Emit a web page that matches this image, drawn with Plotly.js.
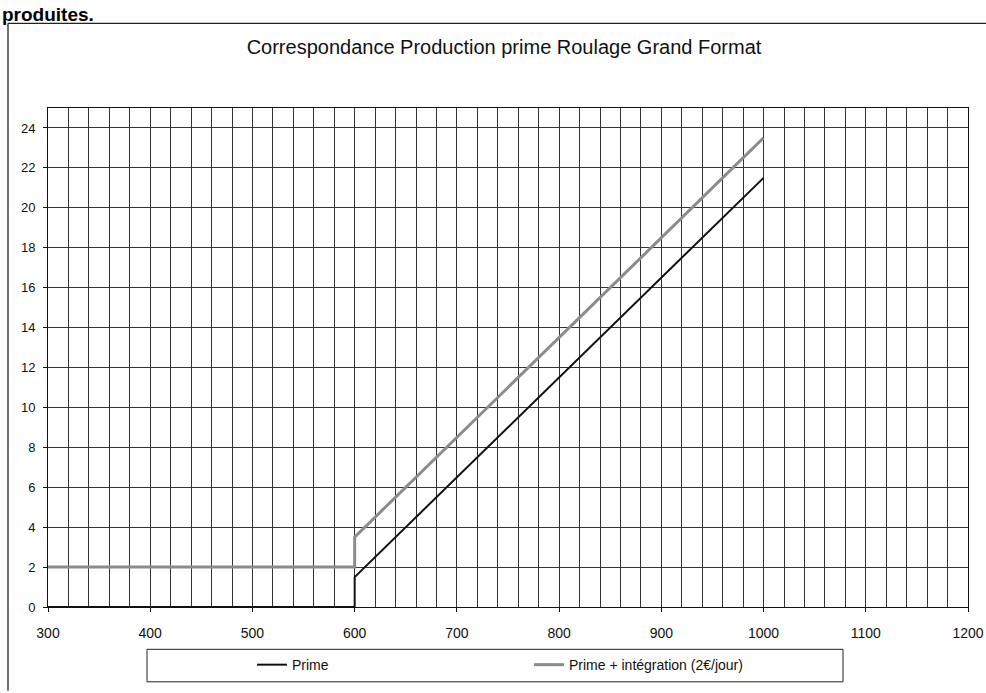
<!DOCTYPE html>
<html>
<head>
<meta charset="utf-8">
<script src="https://cdn.plot.ly/plotly-3.0.1.min.js"></script>
<style>
html,body{margin:0;padding:0;background:#fff;}
#chart{width:986px;height:693px;}
</style>
</head>
<body>
<div id="chart"></div>
<script>
// Data
const production = [300, 600, 600, 700, 800, 900, 1000];
const prime = [0, 0, 1.5, 6.5, 11.5, 16.5, 21.5];
const primeIntegration = [2, 2, 3.5, 8.5, 13.5, 18.5, 23.5];
const seriesNames = ['Prime', 'Prime + intégration (2€/jour)'];
const chartTitle = 'Correspondance Production prime Roulage Grand Format';
const pageFragment = 'produites.';

const FONT = 'Arial, "Liberation Sans", sans-serif';

// pixel -> paper helpers (margins l=48, r=18, t=108, b=78)
const W = 986, H = 693, ML = 48, MR = 18, MT = 108, MB = 78;
const PW = W - ML - MR, PH = H - MT - MB;
const px = x => (x - ML) / PW;
const py = y => (H - MB - y) / PH;

const traces = [
  {x: production, y: prime, name: seriesNames[0], type: 'scatter', mode: 'lines',
   line: {color: '#111111', width: 2}},
  {x: production, y: primeIntegration, name: seriesNames[1], type: 'scatter', mode: 'lines',
   line: {color: '#8c8c8c', width: 3}}
];

const gridCol = '#333333';
const layout = {
  width: W, height: H,
  margin: {l: ML, r: MR, t: MT, b: MB, pad: 0},
  paper_bgcolor: '#ffffff', plot_bgcolor: '#ffffff',
  font: {family: FONT, color: '#111', size: 12},
  title: {text: chartTitle, font: {family: FONT, size: 20, color: '#111'},
          x: px(504), xref: 'paper', xanchor: 'center', y: 1 - 47 / H, yref: 'container', yanchor: 'middle'},
  showlegend: true,
  legend: {orientation: 'h', x: px(252), xanchor: 'left', y: py(674), yanchor: 'middle',
           font: {family: FONT, size: 14, color: '#111'}, bgcolor: 'rgba(0,0,0,0)',
           entrywidth: 232, entrywidthmode: 'pixels', borderwidth: 0},
  xaxis: {range: [300, 1200], dtick: 100, tick0: 300, showgrid: true, gridcolor: gridCol, gridwidth: 1,
          minor: {dtick: 20, showgrid: true, gridcolor: gridCol, gridwidth: 1},
          showline: true, linecolor: '#111', linewidth: 1, mirror: true,
          ticks: 'outside', ticklen: 4, tickcolor: '#111', zeroline: false,
          ticklabelstandoff: 9,
          tickfont: {family: FONT, size: 14, color: '#111'}},
  yaxis: {range: [0, 25], dtick: 2, tick0: 0, showgrid: true, gridcolor: gridCol, gridwidth: 1,
          showline: true, linecolor: '#111', linewidth: 1, mirror: true,
          ticks: 'outside', ticklen: 4, tickcolor: '#111', zeroline: false,
          ticklabelstandoff: 5,
          tickfont: {family: FONT, size: 13, color: '#111'}},
  shapes: [
    // outer chart frame (scanned document)
    {type: 'line', xref: 'paper', yref: 'paper', x0: px(8), x1: px(8), y0: py(22), y1: py(700), line: {color: '#222', width: 1.3}},
    {type: 'line', xref: 'paper', yref: 'paper', x0: px(8), x1: px(990), y0: py(22), y1: py(22), line: {color: '#222', width: 1.3}},
    // legend box
    {type: 'rect', xref: 'paper', yref: 'paper', x0: px(147), x1: px(843), y0: py(658), y1: py(691), line: {color: '#222', width: 1}, fillcolor: 'rgba(0,0,0,0)'}
  ],
  annotations: [
    {text: '<b>' + pageFragment + '</b>', xref: 'paper', yref: 'paper', x: px(0), y: py(0),
     xanchor: 'left', yanchor: 'top', showarrow: false, font: {family: FONT, size: 19, color: '#000'}}
  ]
};

Plotly.newPlot('chart', traces, layout, {displayModeBar: false, staticPlot: true});
</script>
</body>
</html>
